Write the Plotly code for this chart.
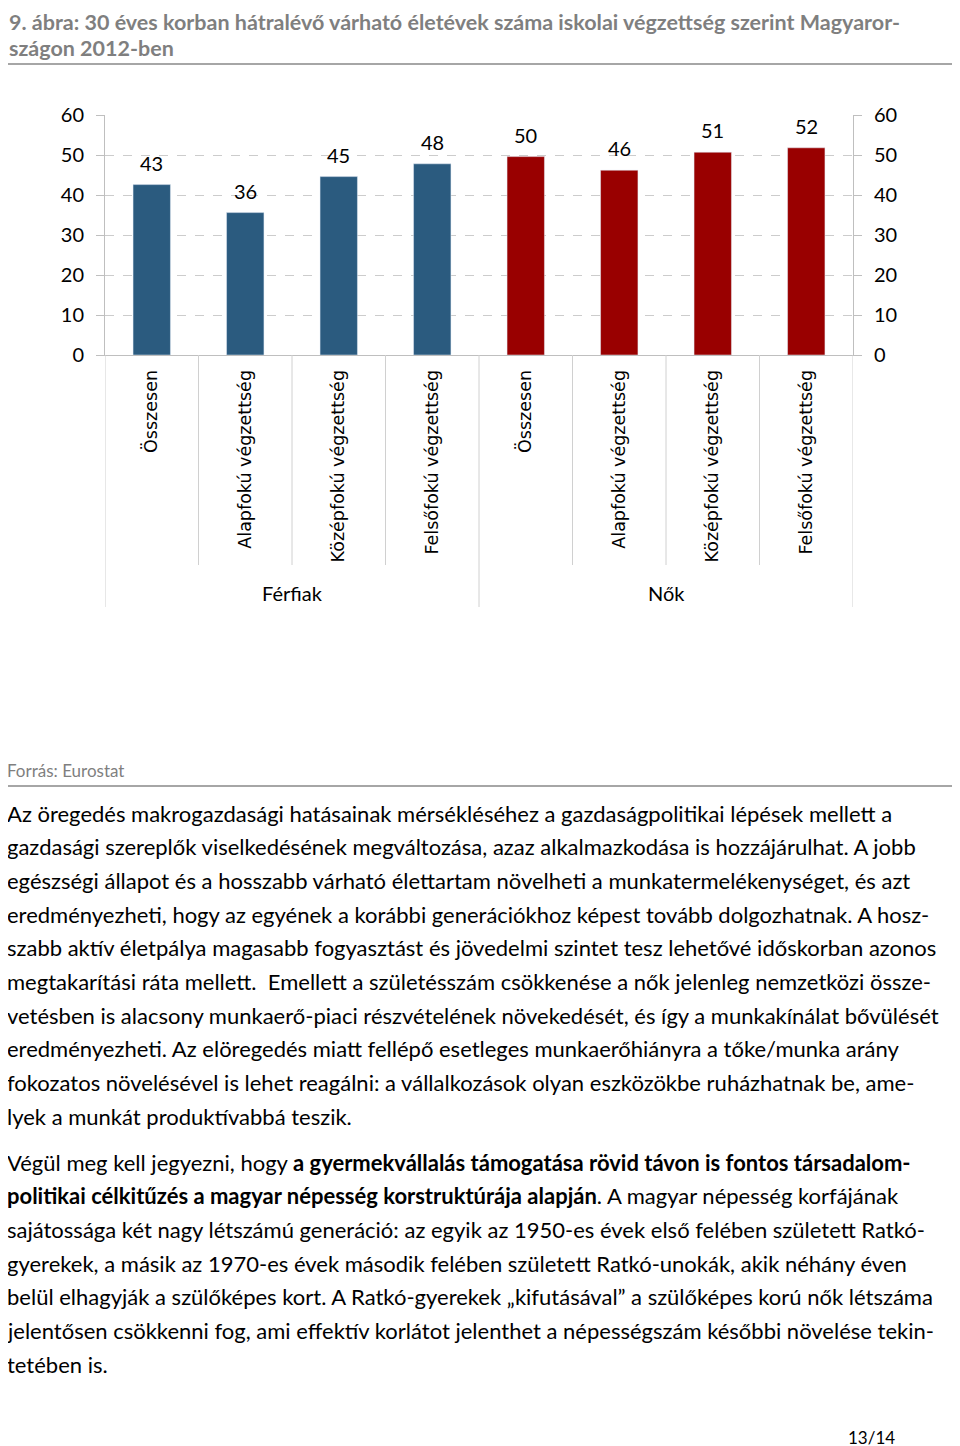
import plotly.graph_objects as go

# chart data
categories = ["Összesen", "Alapfokú végzettség", "Középfokú végzettség", "Felsőfokú végzettség",
              "Összesen", "Alapfokú végzettség", "Középfokú végzettség", "Felsőfokú végzettség"]
groups = ["Férfiak", "Nők"]
values = [42.6, 35.6, 44.6, 47.8, 49.6, 46.2, 50.7, 51.8]
colors = ["#2b5b7f"] * 4 + ["#990000"] * 4
y_ticks = [0, 10, 20, 30, 40, 50, 60]

title_lines = [
    "9. ábra: 30 éves korban hátralévő várható életévek száma iskolai végzettség szerint Magyaror-",
    "szágon 2012-ben",
]
source_text = "Forrás: Eurostat"
para1 = [
    "Az öregedés makrogazdasági hatásainak mérsékléséhez a gazdaságpolitikai lépések mellett a",
    "gazdasági szereplők viselkedésének megváltozása, azaz alkalmazkodása is hozzájárulhat. A jobb",
    "egészségi állapot és a hosszabb várható élettartam növelheti a munkatermelékenységet, és azt",
    "eredményezheti, hogy az egyének a korábbi generációkhoz képest tovább dolgozhatnak. A hosz-",
    "szabb aktív életpálya magasabb fogyasztást és jövedelmi szintet tesz lehetővé időskorban azonos",
    "megtakarítási ráta mellett.  Emellett a születésszám csökkenése a nők jelenleg nemzetközi össze-",
    "vetésben is alacsony munkaerő-piaci részvételének növekedését, és így a munkakínálat bővülését",
    "eredményezheti. Az elöregedés miatt fellépő esetleges munkaerőhiányra a tőke/munka arány",
    "fokozatos növelésével is lehet reagálni: a vállalkozások olyan eszközökbe ruházhatnak be, ame-",
    "lyek a munkát produktívabbá teszik.",
]
para2 = [
    "Végül meg kell jegyezni, hogy <b>a gyermekvállalás támogatása rövid távon is fontos társadalom-</b>",
    "<b>politikai célkitűzés a magyar népesség korstruktúrája alapján</b>. A magyar népesség korfájának",
    "sajátossága két nagy létszámú generáció: az egyik az 1950-es évek első felében született Ratkó-",
    "gyerekek, a másik az 1970-es évek második felében született Ratkó-unokák, akik néhány éven",
    "belül elhagyják a szülőképes kort. A Ratkó-gyerekek „kifutásával” a szülőképes korú nők létszáma",
    "jelentősen csökkenni fog, ami effektív korlátot jelenthet a népességszám későbbi növelése tekin-",
    "tetében is.",
]
page_number = "13/14"

W = 960
H = 1446
OFF = 8  # page body margin


def px(x):
    return (x - OFF) / W


def py(y):
    return 1 - (y - OFF) / H


x_pos = list(range(len(categories)))
grid_col = "#bfbfbf"

fig = go.Figure()
fig.add_trace(go.Bar(x=x_pos, y=values, marker_color=colors, width=0.4,
                     showlegend=False, hoverinfo="y"))
# invisible trace so the right axis shows
fig.add_trace(go.Scatter(x=[x_pos[0]], y=[0], yaxis="y2", mode="markers",
                         marker=dict(opacity=0), showlegend=False, hoverinfo="skip"))

fig.update_layout(
    width=W, height=H,
    margin=dict(l=0, r=0, t=0, b=0),
    paper_bgcolor="white", plot_bgcolor="white",
    font=dict(family="Lato", color="#000000"),
    xaxis=dict(
        domain=[px(105), px(853)], range=[-0.5, 7.5],
        tickvals=x_pos, ticktext=categories, tickangle=-90,
        tickfont=dict(family="DejaVu Sans", size=17.5, color="#000000"),
        ticks="", ticklabelstandoff=7, automargin=False,
        showgrid=False, zeroline=False, showline=True, linecolor=grid_col,
    ),
    yaxis=dict(
        domain=[py(355), py(115)], range=[0, 60], tickvals=y_ticks, automargin=False,
        tickfont=dict(size=20, family="Lato"), ticks="outside", ticklen=8, tickcolor=grid_col,
        showgrid=True, gridcolor="#cccccc", griddash="dash", gridwidth=1,
        zeroline=False, showline=True, linecolor=grid_col, ticklabelstandoff=8,
    ),
    yaxis2=dict(
        domain=[py(355), py(115)], range=[0, 60], tickvals=y_ticks, overlaying="y", side="right",
        tickfont=dict(size=20, family="Lato"), ticks="outside", ticklen=8, tickcolor=grid_col,
        automargin=False, showgrid=False, zeroline=False, showline=True, linecolor=grid_col,
        ticklabelstandoff=8,
    ),
)

shapes = []
# category separators below the axis
for i in range(len(categories) + 1):
    xv = i - 0.5
    y_end = 607 if i in (0, 4, 8) else 565
    shapes.append(dict(type="line", xref="x", yref="paper", x0=xv, x1=xv, y0=py(y_end), y1=py(355),
                       line=dict(color="#d0d0d0", width=1)))
# horizontal rules on the page
for ypix in (64, 786):
    shapes.append(dict(type="line", xref="paper", yref="paper", x0=0, x1=1,
                       y0=py(ypix), y1=py(ypix), line=dict(color="#a6a6a6", width=2)))
fig.update_layout(shapes=shapes)

ann = []
# value labels above bars
for xv, v in zip(x_pos, values):
    ann.append(dict(x=xv, y=v, xref="x", yref="y", text=f"{v:.0f}", showarrow=False,
                    yanchor="middle", yshift=22, font=dict(size=20, family="Lato", color="#000000")))
# group labels
for gi, g in enumerate(groups):
    ann.append(dict(x=gi * 4 + 1.5, xref="x", y=py(593), yref="paper", text=g, showarrow=False,
                    font=dict(size=20, family="Lato", color="#000000"), yanchor="middle"))

for i, line in enumerate(title_lines):
    ann.append(dict(x=px(8), xref="paper", y=py(22 + 26 * i), yref="paper", text="<b>" + line + "</b>",
                    showarrow=False, xanchor="left", yanchor="middle", borderpad=0,
                    font=dict(size=21.5, family="Lato", color="#7f7f7f")))

ann.append(dict(x=px(5), xref="paper", y=py(770), yref="paper", text=source_text, showarrow=False,
                xanchor="left", yanchor="middle", font=dict(size=17, family="Lato", color="#7f7f7f")))

for i, line in enumerate(para1):
    ann.append(dict(x=px(5), xref="paper", y=py(813 + 33.7 * i), yref="paper", text=line,
                    showarrow=False, xanchor="left", yanchor="middle",
                    font=dict(size=22, family="Lato", color="#000000")))
for i, line in enumerate(para2):
    ann.append(dict(x=px(5), xref="paper", y=py(1162 + 33.7 * i), yref="paper", text=line,
                    showarrow=False, xanchor="left", yanchor="middle",
                    font=dict(size=22, family="Lato", color="#000000")))

ann.append(dict(x=px(871), xref="paper", y=py(1437), yref="paper", text=page_number, showarrow=False,
                xanchor="center", yanchor="middle", font=dict(size=17, family="Lato", color="#000000")))
fig.update_layout(annotations=ann)

fig.write_html("out.html")
